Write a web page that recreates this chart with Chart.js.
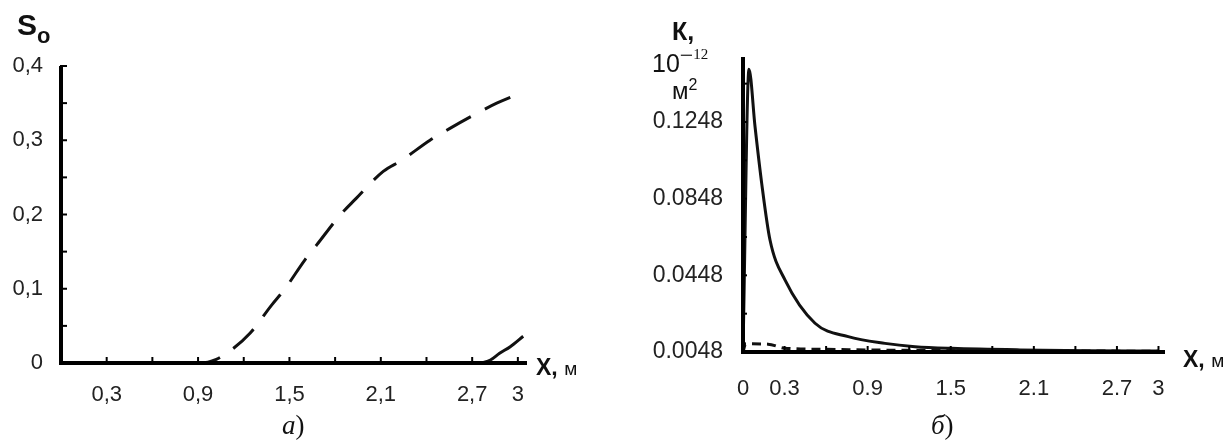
<!DOCTYPE html>
<html>
<head>
<meta charset="utf-8">
<script src="https://cdn.jsdelivr.net/npm/chart.js@4/dist/chart.umd.min.js"></script>
<style>
  body { margin: 0; background: #fff; width: 1232px; height: 441px; position: relative; overflow: hidden; font-family: "Liberation Sans", Arial, sans-serif; }
  canvas { position: absolute; top: 0; }
  #chartA { left: 0; }
  #chartB { left: 616px; }
  .t { position: absolute; color: #111; white-space: nowrap; line-height: 1; }
  .cap { font-family: "Liberation Serif", "Times New Roman", serif; font-size: 27px; }
</style>
</head>
<body>
<canvas id="chartA" width="616" height="441"></canvas>
<canvas id="chartB" width="616" height="441"></canvas>

<div class="t" style="left:17px;top:10px;font-weight:bold;font-size:30px;">S<span style="font-size:22px;position:relative;top:8px;">o</span></div>
<div class="t" style="left:536px;top:356px;font-size:23px;"><b style="font-weight:600">X,</b> <span style="font-size:19px">м</span></div>

<div class="t" style="left:672px;top:19px;font-weight:bold;font-size:25px;">К,</div>
<div class="t" style="left:652px;top:51px;font-size:25px;">10<span style="font-family:'Liberation Serif',serif;font-size:24px;position:relative;top:-9px;">&minus;</span><span style="font-family:'Liberation Serif',serif;font-size:15px;position:relative;top:-13px;">12</span></div>
<div class="t" style="left:672px;top:79px;font-size:24px;">м<span style="font-size:16px;position:relative;top:-9px;">2</span></div>
<div class="t" style="left:1183px;top:348px;font-size:23px;"><b style="font-weight:600">X,</b> <span style="font-size:19px">м</span></div>

<div class="t cap" style="left:282px;top:412px;"><i>а</i>)</div>
<div class="t cap" style="left:931px;top:412px;"><i>б</i>)</div>

<script>
// panel a) - oil saturation S_o along x
const soDashX = [0, 0.9, 0.913, 1.02, 1.121, 1.241, 1.383, 1.471, 1.602, 1.679, 1.832, 1.93, 2.116, 2.237, 2.423, 2.554, 2.729, 2.861, 3.035];
const soDashY = [0, 0, 0, 0.005, 0.018, 0.04, 0.078, 0.1, 0.139, 0.159, 0.199, 0.22, 0.258, 0.273, 0.3, 0.316, 0.336, 0.35, 0.365];
const soSolidX = [2.76, 2.82, 2.88, 2.95, 3.035];
const soSolidY = [0, 0.004, 0.013, 0.022, 0.036];
const soYTicks = [0, 0.1, 0.2, 0.3, 0.4];
const soXLabels = [0.3, 0.9, 1.5, 2.1, 2.7, 3];

// panel б) - permeability K, 10^-12 m^2
const kSolidX = [0, 0.043, 0.087, 0.135, 0.195, 0.303, 0.52, 0.76, 1.025, 1.242, 1.507, 2.0, 2.5, 3.0];
const kSolidY = [0.0048, 0.1523, 0.1223, 0.0928, 0.0632, 0.0424, 0.0198, 0.0128, 0.0093, 0.0076, 0.0067, 0.0059, 0.0055, 0.0053];
const kDashX = [0, 0.02, 0.18, 0.3, 0.6, 1.0, 2.0, 3.0];
const kDashY = [0.0048, 0.0091, 0.0089, 0.0068, 0.0062, 0.0058, 0.0054, 0.0052];
const kYTicks = [0.0048, 0.0448, 0.0848, 0.1248];
const kXLabels = [0, 0.3, 0.9, 1.5, 2.1, 2.7, 3];

const ticksStep = (from, to, step) => {
  const out = [];
  for (let v = from; v <= to + 1e-9; v += step) out.push(+v.toFixed(4));
  return out;
};

// draws the thick axis lines and small inward tick marks
const axesPlugin = {
  id: 'axesPlugin',
  afterDatasetsDraw(chart, args, opts) {
    const c = chart.ctx;
    const x = chart.scales.x, y = chart.scales.y;
    const a = chart.chartArea;
    c.save();
    c.strokeStyle = '#000';
    c.lineCap = 'square';
    c.lineWidth = 2;
    opts.xMinor.forEach(v => {
      const px = x.getPixelForValue(v);
      c.beginPath(); c.moveTo(px, a.bottom); c.lineTo(px, a.bottom - 5); c.stroke();
    });
    opts.yMinor.forEach(v => {
      const py = y.getPixelForValue(v);
      c.beginPath(); c.moveTo(a.left, py); c.lineTo(a.left + opts.yTickLen, py); c.stroke();
    });
    c.lineWidth = 4;
    c.lineCap = 'butt';
    c.beginPath();
    c.moveTo(a.left, a.top);
    c.lineTo(a.left, a.bottom);
    c.lineTo(a.right, a.bottom);
    c.stroke();
    c.restore();
  }
};

const pts = (xs, ys) => xs.map((v, i) => ({ x: v, y: ys[i] }));

function makeChart(id, cfg) {
  return new Chart(document.getElementById(id), {
    type: 'line',
    data: {
      datasets: [
        {
          data: pts(cfg.dashX, cfg.dashY),
          borderColor: '#111', borderWidth: 3, borderDash: cfg.dash,
          pointRadius: 0, cubicInterpolationMode: 'monotone', fill: false
        },
        {
          data: pts(cfg.solidX, cfg.solidY),
          borderColor: '#111', borderWidth: 3,
          pointRadius: 0, cubicInterpolationMode: 'monotone', fill: false
        }
      ]
    },
    options: {
      responsive: false,
      animation: false,
      layout: { padding: cfg.padding },
      plugins: {
        legend: { display: false },
        tooltip: { enabled: false },
        axesPlugin: { xMinor: cfg.xMinor, yMinor: cfg.yMinor, yTickLen: cfg.yTickLen }
      },
      scales: {
        x: {
          type: 'linear', min: 0, max: cfg.xMax,
          grid: { display: false, drawTicks: false },
          border: { display: false },
          afterFit: s => { s.height = 70; },
          afterBuildTicks: s => { s.ticks = cfg.xLabels.map(v => ({ value: v })); },
          ticks: {
            padding: cfg.xPad, color: '#222', maxRotation: 0, autoSkip: false,
            font: { family: 'Liberation Sans', size: 22 },
            callback: v => cfg.fmtX(v)
          }
        },
        y: {
          type: 'linear', min: cfg.yMin, max: cfg.yMax,
          grid: { display: false, drawTicks: false },
          border: { display: false },
          afterFit: s => { s.width = cfg.yWidth; },
          afterBuildTicks: s => { s.ticks = cfg.yTicks.map(v => ({ value: v })); },
          ticks: {
            padding: cfg.yPad, color: '#222', autoSkip: false,
            font: { family: 'Liberation Sans', size: cfg.yFont },
            callback: v => cfg.fmtY(v)
          }
        }
      }
    },
    plugins: [axesPlugin]
  });
}

makeChart('chartA', {
  dashX: soDashX, dashY: soDashY, solidX: soSolidX, solidY: soSolidY,
  dash: [28, 16],
  padding: { left: 0, top: 66, right: 616 - 527, bottom: 441 - 363 - 70 },
  xMax: 3.06, yMin: 0, yMax: 0.4, yWidth: 61,
  xLabels: soXLabels, yTicks: soYTicks,
  xMinor: ticksStep(0.3, 3, 0.3), yMinor: ticksStep(0.05, 0.4, 0.05), yTickLen: 5,
  xPad: 19, yPad: 18, yFont: 22,
  fmtX: v => String(v).replace('.', ','),
  fmtY: v => String(v).replace('.', ',')
});

makeChart('chartB', {
  dashX: kDashX, dashY: kDashY, solidX: kSolidX, solidY: kSolidY,
  dash: [9, 6],
  padding: { left: 0, top: 57, right: 616 - 549, bottom: 441 - 352 - 70 },
  xMax: 3.047, yMin: 0.0048, yMax: 0.1587, yWidth: 127,
  xLabels: kXLabels, yTicks: kYTicks,
  xMinor: ticksStep(0.3, 3, 0.3), yMinor: ticksStep(0.0248, 0.1548, 0.02), yTickLen: 3,
  xPad: 24, yPad: 20, yFont: 23,
  fmtX: v => String(v),
  fmtY: v => v.toFixed(4)
});
</script>
</body>
</html>
